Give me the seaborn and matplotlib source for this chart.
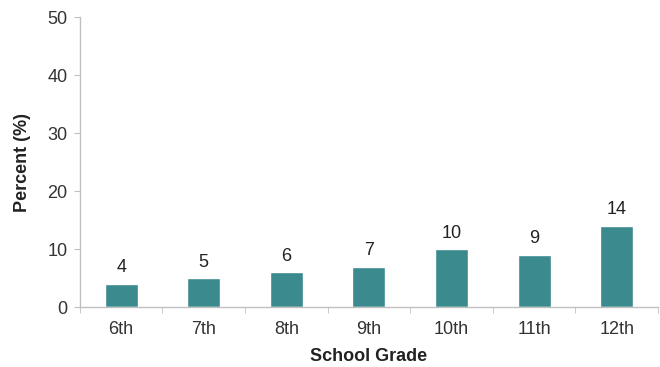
import matplotlib
matplotlib.use("Agg")
import matplotlib.pyplot as plt
import seaborn as sns
import numpy as np

grades = ["6th", "7th", "8th", "9th", "10th", "11th", "12th"]
percent = [4, 5, 6, 7, 10, 9, 14]

sns.set_style("white")
plt.rcParams['font.family'] = ['Liberation Sans', 'DejaVu Sans']

fig = plt.figure(figsize=(6.6, 3.67), dpi=100)
ax = fig.add_axes([0.121, 0.163, 0.876, 0.79])

sns.barplot(x=grades, y=percent, color="#3a8a8e", saturation=1, width=0.4, ax=ax)

for i, v in enumerate(percent):
    ax.text(i, v + 1.3, str(v), ha="center", va="bottom", fontsize=13, color="#222222")

ax.set_xlim(-0.5, len(grades) - 0.5)
ax.set_ylim(0, 50)
ax.set_yticks(range(0, 51, 10))
ax.set_xticks(np.arange(-0.5, len(grades), 1), minor=True)

ax.set_xlabel("School Grade", fontsize=13, fontweight="bold", color="#222222", labelpad=7)
ax.set_ylabel("Percent (%)", fontsize=13, fontweight="bold", color="#222222", labelpad=12)

ax.tick_params(axis="x", which="major", length=0, labelsize=13, labelcolor="#333333", pad=10)
ax.tick_params(axis="x", which="minor", length=4, color="#c0c0c0", direction="out", bottom=True)
ax.tick_params(axis="y", length=4, color="#c0c0c0", labelsize=13, labelcolor="#333333", left=True, pad=5)

for s in ["top", "right"]:
    ax.spines[s].set_visible(False)
for s in ["left", "bottom"]:
    ax.spines[s].set_color("#c0c0c0")
    ax.spines[s].set_linewidth(1)

fig.savefig("out.png", dpi=100)
